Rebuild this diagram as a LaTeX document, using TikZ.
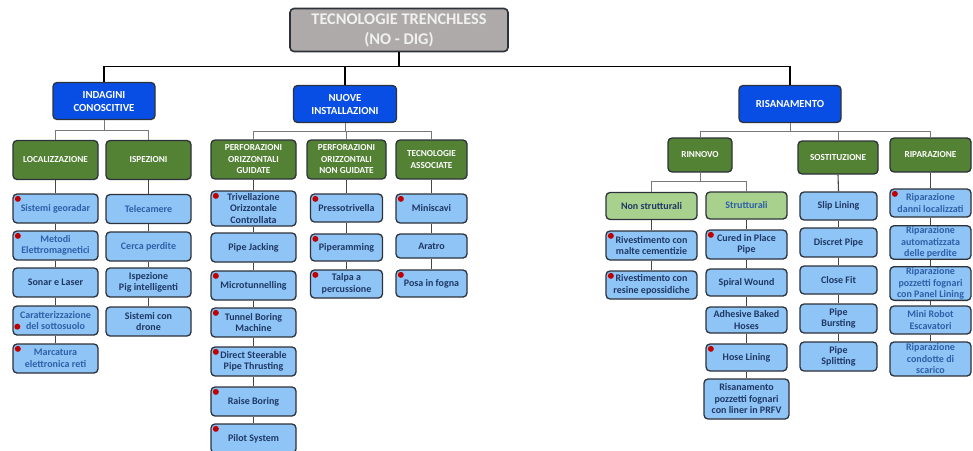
\documentclass[tikz,border=0pt]{standalone}
\usepackage{fontspec}
\setmainfont{Carlito}
\definecolor{rootc}{RGB}{174,170,170}
\definecolor{roottxt}{RGB}{240,240,240}
\definecolor{bordc}{RGB}{45,50,58}
\definecolor{bluec}{RGB}{8,78,228}
\definecolor{greenc}{RGB}{84,130,53}
\definecolor{lgreenc}{RGB}{169,209,142}
\definecolor{leafc}{RGB}{143,196,246}
\definecolor{txtdark}{RGB}{31,56,100}
\definecolor{txtmid}{RGB}{46,95,168}
\definecolor{dotc}{RGB}{192,0,0}
\definecolor{linec}{RGB}{70,70,70}
\definecolor{lbus}{RGB}{120,120,120}
\begin{document}
\begin{tikzpicture}[x=1pt,y=1pt,
  box/.style={draw=bordc, line width=1.3pt, rounded corners=4pt, align=center, inner sep=1pt},
  rootbox/.style={box, fill=rootc, text=roottxt, line width=1.6pt, font=\bfseries\fontsize{16.3}{20}\selectfont, minimum width=218pt, minimum height=43pt},
  lvone/.style={box, fill=bluec, text=white, font=\bfseries\fontsize{10.8}{13}\selectfont, minimum width=102pt, minimum height=37pt},
  lvtwo/.style={box, fill=greenc, text=white, font=\bfseries\fontsize{9.2}{11.5}\selectfont, minimum height=39pt},
  subbox/.style={box, fill=lgreenc, text=txtdark, font=\bfseries\fontsize{10}{11.5}\selectfont, minimum height=27pt},
  leaf/.style={box, fill=leafc, text=txtdark, font=\bfseries\fontsize{10}{11.5}\selectfont, minimum height=29pt},
  leafmid/.style={leaf, text=txtmid},
  mainbus/.style={draw=black, line width=1.2pt},
  subbus/.style={draw=lbus, line width=1pt},
  chain/.style={draw=linec, line width=1.1pt},
  reddot/.style={fill=dotc}
]
\fill[white] (0,0) rectangle (973,-450);
\useasboundingbox (0,0) rectangle (973,-450);

% root and level 1
\node[rootbox] (root) at (399,-30) {TECNOLOGIE TRENCHLESS\\(NO - DIG)};
\node[lvone] (ind) at (104,-101) {INDAGINI\\CONOSCITIVE};
\node[lvone, minimum width=103pt] (nuo) at (345,-104) {NUOVE\\INSTALLAZIONI};
\node[lvone] (ris) at (790,-104) {RISANAMENTO};

% level 2
\node[lvtwo, minimum width=85pt] (loc) at (55.5,-160) {LOCALIZZAZIONE};
\node[lvtwo, minimum width=85pt] (isp) at (148.5,-160) {ISPEZIONI};
\node[lvtwo, minimum width=85pt] (pog) at (253.5,-159.5) {PERFORAZIONI\\ORIZZONTALI\\GUIDATE};
\node[lvtwo, minimum width=79pt] (png) at (346.5,-159.5) {PERFORAZIONI\\ORIZZONTALI\\NON GUIDATE};
\node[lvtwo, minimum width=71pt] (tec) at (431.5,-159.5) {TECNOLOGIE\\ASSOCIATE};
\node[lvtwo, minimum width=64pt, minimum height=34pt] (rin) at (700,-155) {RINNOVO};
\node[lvtwo, minimum width=80pt, minimum height=33pt] (sos) at (838,-157.5) {SOSTITUZIONE};
\node[lvtwo, minimum width=81pt, minimum height=34pt] (rip) at (930.5,-155) {RIPARAZIONE};
\node[subbox, minimum width=91pt] (nstr) at (651.5,-206) {Non strutturali};
\node[subbox, minimum width=81pt, text=txtmid] (str) at (746.5,-205.5) {Strutturali};

% localizzazione
\node[leafmid, minimum width=85pt] (a1) at (55.5,-208.5) {Sistemi georadar};
\node[leafmid, minimum width=85pt] (a2) at (55.5,-245.5) {Metodi\\Elettromagnetici};
\node[leaf, minimum width=85pt] (a3) at (55.5,-282.5) {Sonar e Laser};
\node[leafmid, minimum width=85pt] (a4) at (55.5,-320.5) {Caratterizzazione\\del sottosuolo};
\node[leafmid, minimum width=85pt] (a5) at (55.5,-358.5) {Marcatura\\elettronica reti};
% ispezioni
\node[leafmid, minimum width=85pt] (b1) at (148.5,-209) {Telecamere};
\node[leafmid, minimum width=85pt] (b2) at (148.5,-246.5) {Cerca perdite};
\node[leaf, minimum width=85pt] (b3) at (148.5,-282.5) {Ispezione\\Pig intelligenti};
\node[leaf, minimum width=85pt] (b4) at (148.5,-321.5) {Sistemi con\\drone};
% guidate
\node[leaf, minimum width=85pt, minimum height=35pt] (c1) at (253.5,-208.5) {Trivellazione\\Orizzontale\\Controllata};
\node[leaf, minimum width=85pt] (c2) at (253.5,-247.5) {Pipe Jacking};
\node[leaf, minimum width=85pt] (c3) at (253.5,-285.5) {Microtunnelling};
\node[leaf, minimum width=85pt] (c4) at (253.5,-322.5) {Tunnel Boring\\Machine};
\node[leaf, minimum width=85pt] (c5) at (253.5,-361.5) {Direct Steerable\\Pipe Thrusting};
\node[leaf, minimum width=85pt] (c6) at (253.5,-401.5) {Raise Boring};
\node[leaf, minimum width=85pt] (c7) at (253.5,-438.5) {Pilot System};
% non guidate
\node[leaf, minimum width=72pt, minimum height=28pt] (d1) at (346.5,-208) {Pressotrivella};
\node[leaf, minimum width=72pt, minimum height=27pt] (d2) at (346.5,-247.5) {Piperamming};
\node[leaf, minimum width=72pt, minimum height=28pt] (d3) at (346.5,-284) {Talpa a\\percussione};
% tecnologie associate
\node[leaf, minimum width=71pt] (e1) at (431.5,-208.5) {Miniscavi};
\node[leaf, minimum width=71pt, minimum height=24pt] (e2) at (431.5,-246) {Aratro};
\node[leaf, minimum width=71pt, minimum height=27pt] (e3) at (431.5,-283.5) {Posa in fogna};
% non strutturali
\node[leaf, minimum width=91pt] (f1) at (651.5,-245.5) {Rivestimento con\\malte cementizie};
\node[leaf, minimum width=91pt, minimum height=28pt] (f2) at (651.5,-285) {Rivestimento con\\resine epossidiche};
% strutturali
\node[leaf, minimum width=81pt] (g1) at (746.5,-244.5) {Cured in Place\\Pipe};
\node[leaf, minimum width=81pt, minimum height=27pt] (g2) at (746.5,-282.5) {Spiral Wound};
\node[leaf, minimum width=81pt, minimum height=26pt] (g3) at (746.5,-320) {Adhesive Baked\\Hoses};
\node[leaf, minimum width=81pt, minimum height=27pt] (g4) at (746.5,-357.5) {Hose Lining};
\node[leaf, minimum width=85pt, minimum height=40pt] (g5) at (746.5,-399) {Risanamento\\pozzetti fognari\\con liner in PRFV};
% sostituzione
\node[leaf, minimum width=77pt, minimum height=28pt] (h1) at (838.5,-206) {Slip Lining};
\node[leaf, minimum width=77pt] (h2) at (838.5,-242.5) {Discret Pipe};
\node[leaf, minimum width=77pt, minimum height=28pt] (h3) at (838.5,-280) {Close Fit};
\node[leaf, minimum width=77pt] (h4) at (838.5,-318.5) {Pipe\\Bursting};
\node[leaf, minimum width=77pt] (h5) at (838.5,-356.5) {Pipe\\Splitting};
% riparazione
\node[leafmid, minimum width=81pt, minimum height=28pt] (i1) at (930.5,-203) {Riparazione\\danni localizzati};
\node[leafmid, minimum width=81pt, minimum height=33pt] (i2) at (930.5,-242.5) {Riparazione\\automatizzata\\delle perdite};
\node[leafmid, minimum width=81pt, minimum height=33pt] (i3) at (930.5,-283.5) {Riparazione\\pozzetti fognari\\con Panel Lining};
\node[leafmid, minimum width=81pt, minimum height=28pt] (i4) at (930.5,-320) {Mini Robot\\Escavatori};
\node[leafmid, minimum width=81pt, minimum height=34pt] (i5) at (930.5,-359) {Riparazione\\condotte di\\scarico};

% tree connectors
\foreach \c in {ind,nuo,ris} \draw[mainbus] (root.south) -- ++(0,-14) -| (\c.north);
\foreach \c in {loc,isp} \draw[subbus] (ind.south) -- ++(0,-10) -| (\c.north);
\foreach \c in {pog,png,tec} \draw[subbus] (nuo.south) -- ++(0,-8) -| (\c.north);
\foreach \c in {rin,sos,rip} \draw[subbus] (ris.south) -- ++(0,-8.5) -| (\c.north);
\foreach \c in {nstr,str} \draw[subbus] (rin.south) -- ++(0,-9) -| (\c.north);

% column chains
\foreach \u/\v in {loc/a1,a1/a2,a2/a3,a3/a4,a4/a5,
  isp/b1,b1/b2,b2/b3,b3/b4,
  pog/c1,c1/c2,c2/c3,c3/c4,c4/c5,c5/c6,c6/c7,
  png/d1,d1/d2,d2/d3,
  tec/e1,e1/e2,e2/e3,
  nstr/f1,f1/f2,
  str/g1,g1/g2,g2/g3,g3/g4,g4/g5,
  sos/h1,h1/h2,h2/h3,h3/h4,h4/h5,
  rip/i1,i1/i2,i2/i3,i3/i4,i4/i5}
  \draw[chain] (\u.south) -- (\v.north);

% red dots
\foreach \n in {a1,a2,a5,c1,c3,c4,c5,c6,c7,d1,d2,d3,e1,e3,f1,f2,g1,g4,i1}
  \fill[reddot] ([shift={(5.5,-5.5)}]\n.north west) circle (3pt);
\fill[reddot] ([shift={(5,9)}]a4.south west) circle (3pt);
\end{tikzpicture}
\end{document}
